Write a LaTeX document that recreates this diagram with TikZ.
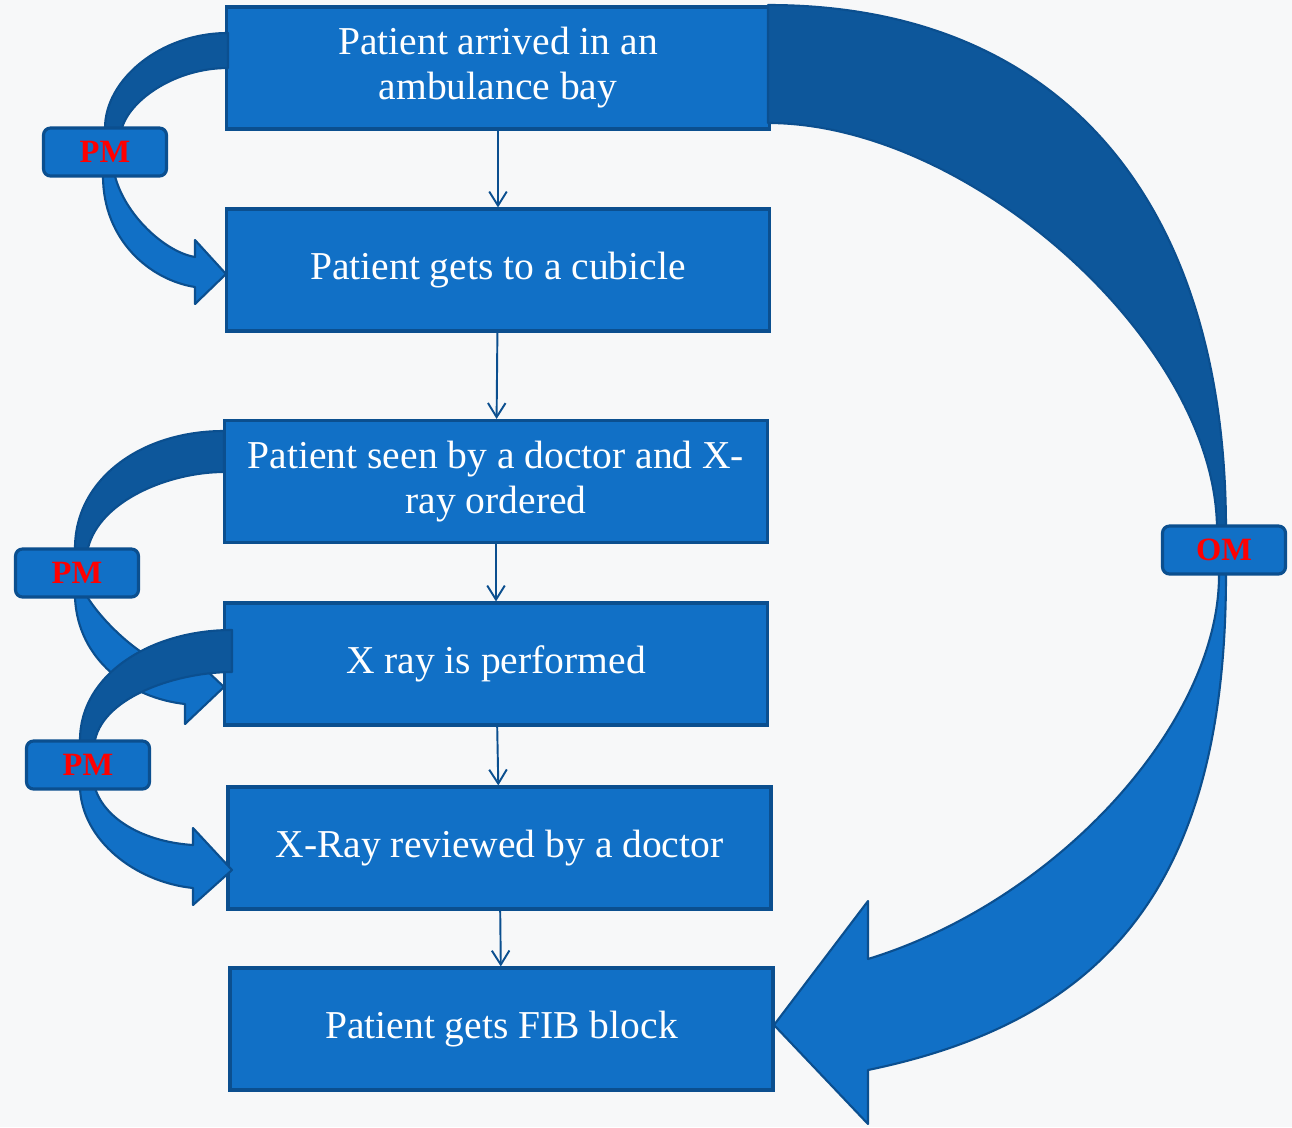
\documentclass[tikz,border=0pt]{standalone}
\usepackage{fontspec}
\setmainfont{Liberation Serif}
\usetikzlibrary{arrows.meta,positioning}

\definecolor{boxblue}{HTML}{1170C6}
\definecolor{edgeblue}{HTML}{0B4F8F}
\definecolor{backblue}{HTML}{0D579B}
\definecolor{paper}{HTML}{F7F8F9}

\begin{document}
\begin{tikzpicture}[x=0.02cm,y=-0.02cm,
  stepbox/.style={draw=edgeblue,line width=1.8pt,fill=boxblue,text=white,
    minimum width=10.86cm,minimum height=2.44cm,align=center,inner sep=0pt,
    font=\fontsize{22.5}{25.6}\selectfont},
  tagbox/.style={draw=edgeblue,line width=1.8pt,fill=boxblue,rounded corners=4pt,
    minimum width=2.46cm,minimum height=0.96cm,inner sep=0pt,text=red,
    font=\fontsize{18.5}{21}\selectfont\bfseries},
  flow/.style={-{Straight Barb[length=8pt,width=10pt]},draw=edgeblue,line width=1.1pt},
  bendback/.style={fill=backblue,draw=edgeblue,line width=1.2pt,line join=round},
  bendfront/.style={fill=boxblue,draw=edgeblue,line width=1.2pt,line join=round}]

% background, in pixels of the original slide
\useasboundingbox (0,0) rectangle (1292,1127);
\fill[paper] (0,0) rectangle (1292,1127);

% ===== PROCESS STEPS =====
\node[stepbox] (arrive)  at (498,68)    {Patient arrived in an\\ambulance bay};
\node[stepbox] (cubicle) at (498,270)   {Patient gets to a cubicle};
\node[stepbox] (seen)    at (496,481.5) {Patient seen by a doctor and X-\\ray ordered};
\node[stepbox] (xray)    at (496,664)   {X ray is performed};
\node[stepbox] (review)  at (499.5,848) {X-Ray reviewed by a doctor};
\node[stepbox] (fib)     at (501.5,1029) {Patient gets FIB block};

\draw[flow] (arrive) -- (cubicle);
\draw[flow] (cubicle) -- (seen);
\draw[flow] (seen) -- (xray);
\draw[flow] (xray) -- (review);
\draw[flow] (review) -- (fib);

% ===== FIRST PM ARROW (ambulance bay -> cubicle) =====
\draw[bendback] (228,33) .. controls (160,33) and (105,80) .. (105,128)
  -- (105,145) -- (118,145) -- (122,128)
  .. controls (130,100) and (175,68) .. (228,68) -- cycle;
\draw[bendfront] (103,160) -- (103,176) .. controls (103,240) and (150,280) .. (195,287)
  -- (195,304) -- (226,274) -- (195,240) -- (195,257)
  .. controls (165,252) and (125,215) .. (115,176) -- (115,160) -- cycle;

% ===== SECOND PM ARROW (doctor -> X ray) =====
\draw[bendback] (224,431) .. controls (140,431) and (75,480) .. (75,548)
  -- (75,565) -- (86,565) -- (88,548)
  .. controls (100,500) and (170,472) .. (224,472) -- cycle;
\draw[bendfront] (75,580) -- (75,598) .. controls (78,660) and (130,698) .. (185,704)
  -- (185,724) -- (224,687) -- (185,650) -- (185,670)
  .. controls (150,668) and (105,625) .. (88,598) -- (88,580) -- cycle;

% ===== THIRD PM ARROW (X ray -> review) =====
\draw[bendback] (232,630) .. controls (150,630) and (80,675) .. (80,740)
  -- (80,758) -- (93,758) -- (95,740)
  .. controls (105,695) and (180,672) .. (232,672) -- cycle;
\draw[bendfront] (80,770) -- (80,788) .. controls (82,840) and (135,882) .. (193,888)
  -- (193,905) -- (232,870) -- (193,828) -- (193,845)
  .. controls (145,842) and (105,820) .. (95,788) -- (95,770) -- cycle;

% ===== OM ARROW (ambulance bay -> FIB block) =====
\draw[bendback] (768,5) .. controls (1060,5) and (1226,200) .. (1226,530)
  -- (1226,545) -- (1217,545) -- (1217,530)
  .. controls (1217,344) and (970,123) .. (768,123) -- cycle;
\draw[bendfront] (1219,560) -- (1219,574) .. controls (1220,720) and (1060,900) .. (868,959)
  -- (868,901) -- (774,1025) -- (868,1124) -- (868,1070)
  .. controls (1110,1020) and (1226,880) .. (1226,574) -- (1226,560) -- cycle;

% ===== TAGS =====
\node[tagbox] (pmA) at (105,152)  {PM};
\node[tagbox] (pmB) at (77,573)   {PM};
\node[tagbox] (pmC) at (88,765)   {PM};
\node[tagbox] (om)  at (1224,550) {OM};

\end{tikzpicture}
\end{document}
